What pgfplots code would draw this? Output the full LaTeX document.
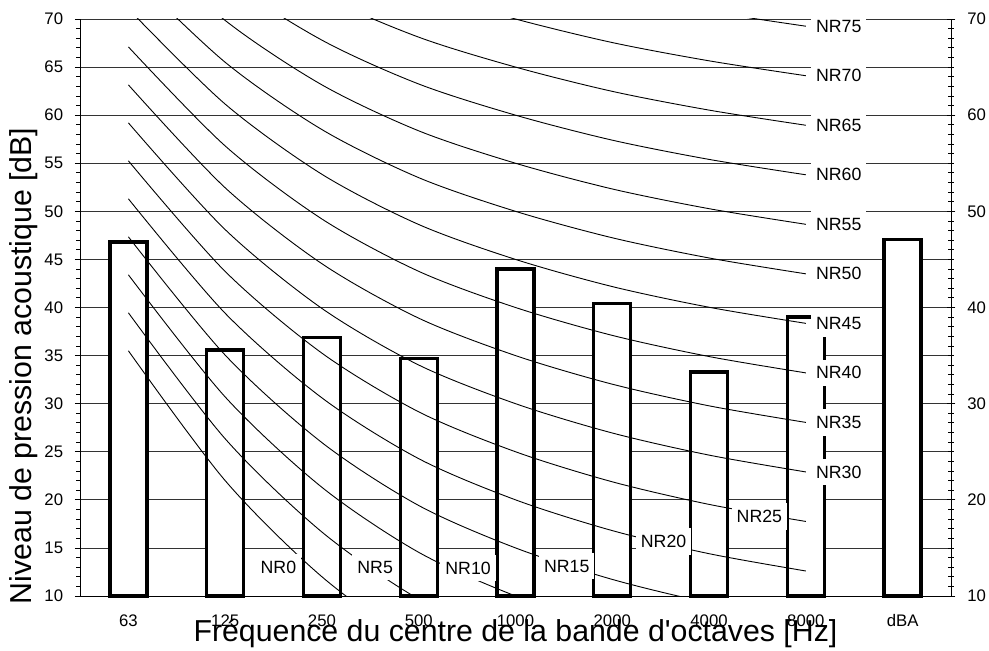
\documentclass[border=0pt]{standalone}
\usepackage{fontspec}
\setmainfont{Liberation Sans}
\usepackage{pgfplots}
\pgfplotsset{compat=1.18}
\newcommand{\tickfont}{\fontsize{16.8}{18}\selectfont}
\newcommand{\labfont}{\fontsize{17.8}{19}\selectfont}
\newcommand{\axfont}{\fontsize{30.4}{34}\selectfont}
\begin{document}
\begin{tikzpicture}
\pgfplotsset{
  base/.style={width=871bp, height=577bp, scale only axis,
    xmin=-0.5, xmax=8.5, ymin=10, ymax=70},
  nrcurve/.style={black, line width=0.9bp, smooth, no marks},
  bar/.style={fill=white, draw=black, line width=3.4bp, line join=miter},
}
\tikzset{lab/.style={fill=white, inner xsep=5bp, inner ysep=7bp, font=\labfont}}
% ---- layer A: grid, left axis, labels
\begin{axis}[base,
  axis x line*=bottom, axis y line*=left,
  axis line style={-, line width=0.9bp},
  xtick={0,...,8},
  xticklabels={63,125,250,500,1000,2000,4000,8000,dBA},
  x tick style={draw=none},
  xticklabel style={font=\tickfont, anchor=base, yshift=-25bp},
  ytick={10,15,...,70}, minor y tick num=4,
  y tick style={black, line width=0.8bp},
  tick align=outside,
  major tick length=5bp, minor tick length=3.5bp,
  yticklabel style={font=\tickfont, anchor=east, inner sep=0pt, xshift=-11.7bp},
  /pgf/number format/assume math mode=true,
  ymajorgrids, major grid style={black!80, line width=0.8bp},
  xlabel={Fréquence du centre de la bande d\textquotesingle octaves [Hz]},
  ylabel={Niveau de pression acoustique [dB]},
  xlabel style={at={(axis description cs:0.5,-0.0797)}, anchor=base, font=\axfont},
  ylabel style={at={(axis description cs:-0.05545,0.399)}, anchor=base, font=\axfont},
]
\addplot[draw=none] coordinates {(0,10)};
\end{axis}
% ---- layer B: bars
\begin{axis}[base, hide axis, clip=false]
\addplot[bar] coordinates {(-0.191,10) (-0.191,46.8) (0.191,46.8) (0.191,10)} -- cycle;
\addplot[bar] coordinates {(0.809,10) (0.809,35.6) (1.191,35.6) (1.191,10)} -- cycle;
\addplot[bar] coordinates {(1.809,10) (1.809,36.9) (2.191,36.9) (2.191,10)} -- cycle;
\addplot[bar] coordinates {(2.809,10) (2.809,34.7) (3.191,34.7) (3.191,10)} -- cycle;
\addplot[bar] coordinates {(3.809,10) (3.809,44.0) (4.191,44.0) (4.191,10)} -- cycle;
\addplot[bar] coordinates {(4.809,10) (4.809,40.4) (5.191,40.4) (5.191,10)} -- cycle;
\addplot[bar] coordinates {(5.809,10) (5.809,33.3) (6.191,33.3) (6.191,10)} -- cycle;
\addplot[bar] coordinates {(6.809,10) (6.809,39.0) (7.191,39.0) (7.191,10)} -- cycle;
\addplot[bar] coordinates {(7.809,10) (7.809,47.1) (8.191,47.1) (8.191,10)} -- cycle;
\end{axis}
% ---- layer C: NR curves, labels, right axis
\begin{axis}[base,
  axis x line=none, axis y line*=right,
  axis line style={-, line width=0.9bp},
  ytick={10,20,...,70}, minor y tick num=9,
  y tick style={black, line width=0.8bp},
  tick align=center,
  major tick length=8.7bp, minor tick length=5.7bp,
  yticklabel style={font=\tickfont, anchor=west, inner sep=0pt, xshift=11.7bp},
  /pgf/number format/assume math mode=true,
  clip mode=individual,
]
\addplot[nrcurve] coordinates {(0,35.5) (1,22.0) (2,12.0) (3,4.8) (4,0) (5,-3.5) (6,-6.1) (7,-8.0)};
\addplot[nrcurve] coordinates {(0,39.45) (1,26.35) (2,16.65) (3,9.67) (4,5) (5,1.575) (6,-0.975) (7,-2.85)};
\addplot[nrcurve] coordinates {(0,43.4) (1,30.7) (2,21.3) (3,14.54) (4,10) (5,6.65) (6,4.15) (7,2.3)};
\addplot[nrcurve] coordinates {(0,47.35) (1,35.05) (2,25.95) (3,19.41) (4,15) (5,11.725) (6,9.275) (7,7.45)};
\addplot[nrcurve] coordinates {(0,51.3) (1,39.4) (2,30.6) (3,24.28) (4,20) (5,16.8) (6,14.4) (7,12.6)};
\addplot[nrcurve] coordinates {(0,55.25) (1,43.75) (2,35.25) (3,29.15) (4,25) (5,21.875) (6,19.525) (7,17.75)};
\addplot[nrcurve] coordinates {(0,59.2) (1,48.1) (2,39.9) (3,34.02) (4,30) (5,26.95) (6,24.65) (7,22.9)};
\addplot[nrcurve] coordinates {(0,63.15) (1,52.45) (2,44.55) (3,38.89) (4,35) (5,32.025) (6,29.775) (7,28.05)};
\addplot[nrcurve] coordinates {(0,67.1) (1,56.8) (2,49.2) (3,43.76) (4,40) (5,37.1) (6,34.9) (7,33.2)};
\addplot[nrcurve] coordinates {(0,71.05) (1,61.15) (2,53.85) (3,48.63) (4,45) (5,42.175) (6,40.025) (7,38.35)};
\addplot[nrcurve] coordinates {(0,75.0) (1,65.5) (2,58.5) (3,53.5) (4,50) (5,47.25) (6,45.15) (7,43.5)};
\addplot[nrcurve] coordinates {(0,78.95) (1,69.85) (2,63.15) (3,58.37) (4,55) (5,52.325) (6,50.275) (7,48.65)};
\addplot[nrcurve] coordinates {(0,82.9) (1,74.2) (2,67.8) (3,63.24) (4,60) (5,57.4) (6,55.4) (7,53.8)};
\addplot[nrcurve] coordinates {(0,86.85) (1,78.55) (2,72.45) (3,68.11) (4,65) (5,62.475) (6,60.525) (7,58.95)};
\addplot[nrcurve] coordinates {(0,90.8) (1,82.9) (2,77.1) (3,72.98) (4,70) (5,67.55) (6,65.65) (7,64.1)};
\addplot[nrcurve] coordinates {(0,94.75) (1,87.25) (2,81.75) (3,77.85) (4,75) (5,72.625) (6,70.775) (7,69.25)};
% labels
\node[lab] at (axis cs:1.55,13.0) {NR0};
\node[lab] at (axis cs:2.55,13.0) {NR5};
\node[lab] at (axis cs:3.51,12.9) {NR10};
\node[lab] at (axis cs:4.53,13.1) {NR15};
\node[lab] at (axis cs:5.53,15.67) {NR20};
\node[lab] at (axis cs:6.52,18.25) {NR25};
\node[lab, anchor=west, xshift=5bp] at (axis cs:7,22.9) {NR30};
\node[lab, anchor=west, xshift=5bp] at (axis cs:7,28.05) {NR35};
\node[lab, anchor=west, xshift=5bp] at (axis cs:7,33.2) {NR40};
\node[lab, anchor=west, xshift=5bp] at (axis cs:7,38.35) {NR45};
\node[lab, anchor=west, xshift=5bp] at (axis cs:7,43.5) {NR50};
\node[lab, anchor=west, xshift=5bp] at (axis cs:7,48.65) {NR55};
\node[lab, anchor=west, xshift=5bp] at (axis cs:7,53.8) {NR60};
\node[lab, anchor=west, xshift=5bp] at (axis cs:7,58.95) {NR65};
\node[lab, anchor=west, xshift=5bp] at (axis cs:7,64.1) {NR70};
\node[lab, anchor=west, xshift=5bp] at (axis cs:7,69.25) {NR75};
\end{axis}
\pgfresetboundingbox
\path (-80bp,-55bp) rectangle (909bp,596bp);
\end{tikzpicture}
\end{document}
